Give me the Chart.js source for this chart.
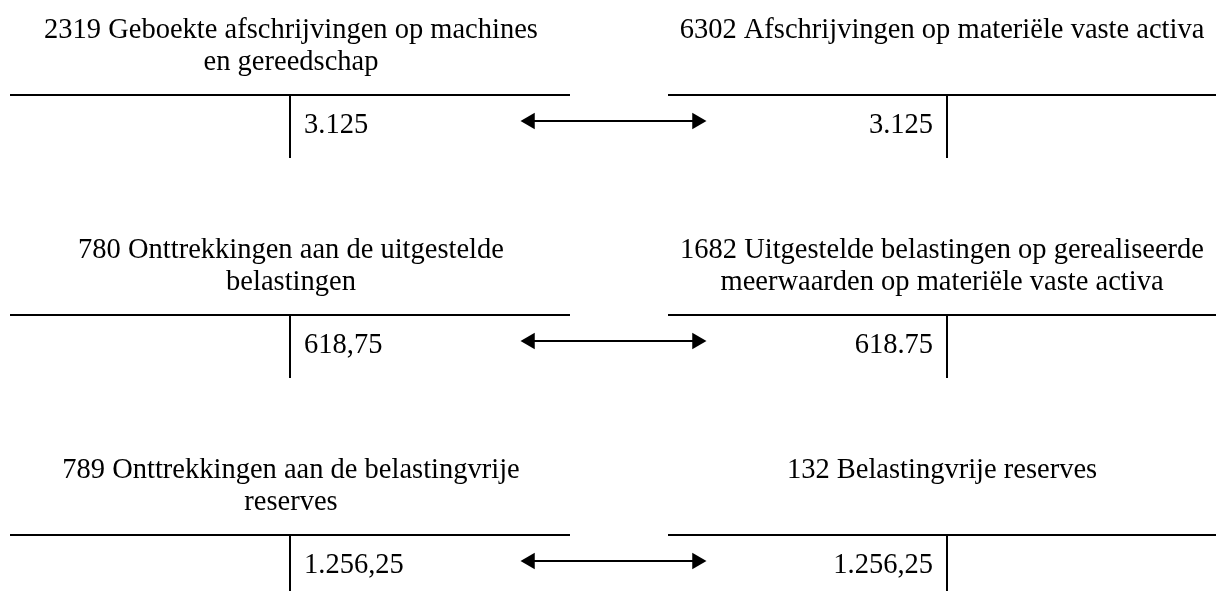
<!DOCTYPE html>
<html><head><meta charset="utf-8">
<script src="https://cdn.jsdelivr.net/npm/chart.js@4"></script>
<style>html,body{margin:0;padding:0;background:#fff;}#wrap{width:1216px;height:591px;}</style>
</head><body><div id="wrap"><canvas id="c" width="1216" height="591"></canvas></div>
<script>
// Data
const leftTitles = [
  ["2319 Geboekte afschrijvingen op machines", "en gereedschap"],
  ["780 Onttrekkingen aan de uitgestelde", "belastingen"],
  ["789 Onttrekkingen aan de belastingvrije", "reserves"]
];
const rightTitles = [
  ["6302 Afschrijvingen op materiële vaste activa"],
  ["1682 Uitgestelde belastingen op gerealiseerde", "meerwaarden op materiële vaste activa"],
  ["132 Belastingvrije reserves"]
];
const leftAmounts = ["3.125", "618,75", "1.256,25"];
const rightAmounts = ["3.125", "618.75", "1.256,25"];

// Layout (diagram coordinates)
const L = {
  rowStart: 95, rowStep: 220, stemLen: 63,
  leftX0: 10, leftX1: 570, leftStem: 290, leftTitleX: 291,
  rightX0: 668, rightX1: 1216, rightStem: 947, rightTitleX: 942,
  arrowL: 530, arrowR: 697, arrowDy: 26,
  title1Dy: -64, titleLineH: 32, amountDy: 31,
  font: '28.5px "Liberation Serif", "Times New Roman", serif'
};

const datasets = [];
const seg = (pts, extra) => Object.assign({
  data: pts, showLine: true, borderColor: '#000', borderWidth: 2,
  pointRadius: 0, fill: false, tension: 0
}, extra || {});
leftTitles.forEach((_, i) => {
  const y = L.rowStart + i * L.rowStep;
  datasets.push(seg([{x: L.leftX0, y}, {x: L.leftX1, y}]));
  datasets.push(seg([{x: L.leftStem, y}, {x: L.leftStem, y: y + L.stemLen}]));
  datasets.push(seg([{x: L.rightX0, y}, {x: L.rightX1, y}]));
  datasets.push(seg([{x: L.rightStem, y}, {x: L.rightStem, y: y + L.stemLen}]));
  const ay = y + L.arrowDy;
  datasets.push(seg([{x: L.arrowL, y: ay}, {x: L.arrowR, y: ay}], {
    pointRadius: 9.5, pointStyle: 'triangle', pointRotation: [-90, 90],
    pointBackgroundColor: '#000', pointBorderColor: '#000', pointBorderWidth: 0
  }));
});

const textPlugin = {
  id: 'tacc',
  afterDatasetsDraw(chart) {
    const ctx = chart.ctx, xs = chart.scales.x, ys = chart.scales.y;
    ctx.save();
    ctx.fillStyle = '#000';
    ctx.font = L.font;
    ctx.textBaseline = 'middle';
    leftTitles.forEach((lines, i) => {
      const y = L.rowStart + i * L.rowStep;
      ctx.textAlign = 'center';
      lines.forEach((t, k) => ctx.fillText(t, xs.getPixelForValue(L.leftTitleX), ys.getPixelForValue(y + L.title1Dy + k * L.titleLineH)));
      rightTitles[i].forEach((t, k) => ctx.fillText(t, xs.getPixelForValue(L.rightTitleX), ys.getPixelForValue(y + L.title1Dy + k * L.titleLineH)));
      ctx.textAlign = 'left';
      ctx.fillText(leftAmounts[i], xs.getPixelForValue(L.leftStem + 14), ys.getPixelForValue(y + L.amountDy));
      ctx.textAlign = 'right';
      ctx.fillText(rightAmounts[i], xs.getPixelForValue(L.rightStem - 14), ys.getPixelForValue(y + L.amountDy));
    });
    ctx.restore();
  }
};

new Chart(document.getElementById('c'), {
  type: 'scatter',
  data: { datasets },
  options: {
    responsive: false, animation: false, devicePixelRatio: 1,
    layout: { padding: 0, autoPadding: false },
    plugins: { legend: { display: false }, tooltip: { enabled: false } },
    scales: {
      x: { type: 'linear', min: 0, max: 1216, display: false },
      y: { type: 'linear', min: 0, max: 591, reverse: true, display: false }
    }
  },
  plugins: [textPlugin]
});
</script></body></html>
